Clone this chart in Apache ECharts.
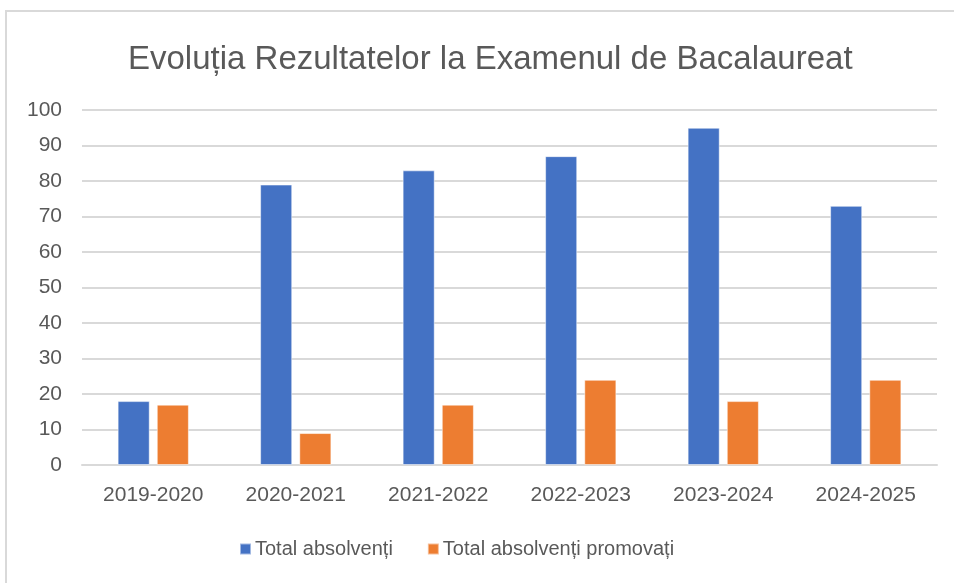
<!DOCTYPE html>
<html>
<head>
<meta charset="utf-8">
<script src="https://cdn.jsdelivr.net/npm/echarts@6/dist/echarts.min.js"></script>
<style>
  html, body { margin: 0; padding: 0; background: #fff; }
  #chart { width: 954px; height: 583px; }
</style>
</head>
<body>
<div id="chart"></div>
<script>
const categories = ['2019-2020', '2020-2021', '2021-2022', '2022-2023', '2023-2024', '2024-2025']
const totalAbsolventi = [18, 79, 83, 87, 95, 73]
const totalPromovati = [17, 9, 17, 24, 18, 24]
const seriesNames = ['Total absolvenți', 'Total absolvenți promovați']

const colorList = ['#4472C4', '#ED7D31', '#595959', '#D9D9D9']
const fontName = 'Liberation Sans'

const chart = echarts.init(document.getElementById('chart'))

const option = {
  animation: false,
  textStyle: { fontFamily: fontName },
  graphic: [
    {
      type: 'rect',
      shape: { x: 6, y: 11, width: 1000, height: 1000 },
      style: { fill: 'none', stroke: colorList[3], lineWidth: 2 }
    }
  ],
  title: {
    text: 'Evoluția Rezultatelor la Examenul de Bacalaureat',
    left: 123,
    top: 38,
    textStyle: {
      color: colorList[2],
      fontSize: 33,
      fontWeight: 'normal',
      fontFamily: fontName
    }
  },
  legend: {
    bottom: 19,
    left: 234,
    itemWidth: 11,
    itemHeight: 11,
    itemGap: 34,
    icon: 'rect',
    textStyle: { color: colorList[2], fontSize: 20, padding: [0, 0, 0, -1] },
    data: seriesNames
  },
  grid: {
    left: 82,
    right: 17,
    top: 110,
    bottom: 118,
    containLabel: false
  },
  xAxis: {
    type: 'category',
    data: categories,
    axisLine: { lineStyle: { color: colorList[3], width: 2 } },
    axisTick: { show: false },
    axisLabel: { color: colorList[2], fontSize: 21, margin: 20 }
  },
  yAxis: {
    type: 'value',
    min: 0,
    max: 100,
    interval: 10,
    axisLine: { show: false },
    axisTick: { show: false },
    axisLabel: { color: colorList[2], fontSize: 21, margin: 20 },
    splitLine: { lineStyle: { color: colorList[3], width: 2 } }
  },
  series: [
    {
      name: seriesNames[0],
      type: 'bar',
      data: totalAbsolventi,
      barGap: '22%',
      barCategoryGap: '50%',
      itemStyle: { color: colorList[0], borderColor: 'rgba(255,255,255,0.5)', borderWidth: 1 }
    },
    {
      name: seriesNames[1],
      type: 'bar',
      data: totalPromovati,
      barGap: '22%',
      barCategoryGap: '50%',
      itemStyle: { color: colorList[1], borderColor: 'rgba(255,255,255,0.5)', borderWidth: 1 }
    }
  ]
}

chart.setOption(option)
</script>
</body>
</html>
